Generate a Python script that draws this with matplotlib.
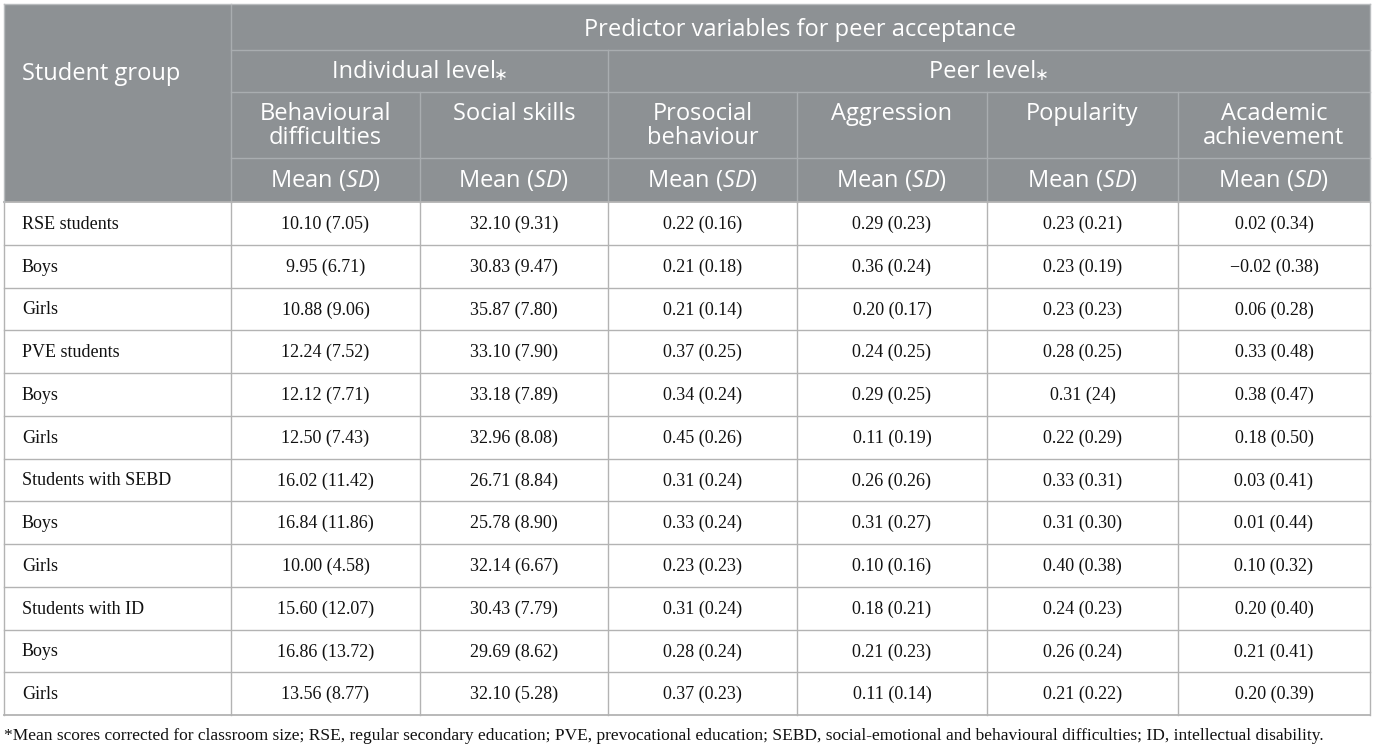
import matplotlib
matplotlib.use("Agg")
import matplotlib.pyplot as plt

plt.rcParams['mathtext.fontset'] = 'custom'
plt.rcParams['mathtext.rm'] = 'Open Sans'
plt.rcParams['mathtext.it'] = 'Open Sans:italic'

# ---- data ----
groups = ["RSE students", "Boys", "Girls", "PVE students", "Boys", "Girls",
          "Students with SEBD", "Boys", "Girls", "Students with ID", "Boys", "Girls"]
behavioural = ["10.10 (7.05)", "9.95 (6.71)", "10.88 (9.06)", "12.24 (7.52)", "12.12 (7.71)",
               "12.50 (7.43)", "16.02 (11.42)", "16.84 (11.86)", "10.00 (4.58)",
               "15.60 (12.07)", "16.86 (13.72)", "13.56 (8.77)"]
social = ["32.10 (9.31)", "30.83 (9.47)", "35.87 (7.80)", "33.10 (7.90)", "33.18 (7.89)",
          "32.96 (8.08)", "26.71 (8.84)", "25.78 (8.90)", "32.14 (6.67)", "30.43 (7.79)",
          "29.69 (8.62)", "32.10 (5.28)"]
prosocial = ["0.22 (0.16)", "0.21 (0.18)", "0.21 (0.14)", "0.37 (0.25)", "0.34 (0.24)",
             "0.45 (0.26)", "0.31 (0.24)", "0.33 (0.24)", "0.23 (0.23)", "0.31 (0.24)",
             "0.28 (0.24)", "0.37 (0.23)"]
aggression = ["0.29 (0.23)", "0.36 (0.24)", "0.20 (0.17)", "0.24 (0.25)", "0.29 (0.25)",
              "0.11 (0.19)", "0.26 (0.26)", "0.31 (0.27)", "0.10 (0.16)", "0.18 (0.21)",
              "0.21 (0.23)", "0.11 (0.14)"]
popularity = ["0.23 (0.21)", "0.23 (0.19)", "0.23 (0.23)", "0.28 (0.25)", "0.31 (24)",
              "0.22 (0.29)", "0.33 (0.31)", "0.31 (0.30)", "0.40 (0.38)", "0.24 (0.23)",
              "0.26 (0.24)", "0.21 (0.22)"]
academic = ["0.02 (0.34)", "\u22120.02 (0.38)", "0.06 (0.28)", "0.33 (0.48)", "0.38 (0.47)",
            "0.18 (0.50)", "0.03 (0.41)", "0.01 (0.44)", "0.10 (0.32)", "0.20 (0.40)",
            "0.21 (0.41)", "0.20 (0.39)"]
var_labels = ["Behavioural\ndifficulties", "Social skills", "Prosocial\nbehaviour",
              "Aggression", "Popularity", "Academic\nachievement"]
title_top = "Predictor variables for peer acceptance"
level_labels = ["Individual level", "Peer level"]
level_mark = "\u2217"
stub_label = "Student group"
footnote = ("*Mean scores corrected for classroom size; RSE, regular secondary education; "
            "PVE, prevocational education; SEBD, social-emotional and behavioural difficulties; "
            "ID, intellectual disability.")

columns = [behavioural, social, prosocial, aggression, popularity, academic]

# ---- layout ----
W, H = 1375, 750
fig = plt.figure(figsize=(W / 100, H / 100), dpi=100)
ax = fig.add_axes([0, 0, 1, 1])
ax.set_xlim(0, W)
ax.set_ylim(H, 0)
ax.axis('off')

xb = [4, 231, 420, 608, 797, 987, 1178, 1370]
hy = [4, 50, 92, 158, 202]
body_top = 202
body_bot = 715
nrows = len(groups)
rh = (body_bot - body_top) / nrows

hdr_fill = '#8d9194'
hdr_line = '#a9adb0'
body_line = '#b3b3b3'
hdr_txt = '#ffffff'

ax.add_patch(plt.Rectangle((xb[0], hy[0]), xb[-1] - xb[0], hy[-1] - hy[0],
                           facecolor=hdr_fill, edgecolor='none', zorder=1))
lw = 1.0
# header lines
ax.plot([xb[1], xb[-1]], [hy[1]] * 2, color=hdr_line, lw=lw, zorder=2)
ax.plot([xb[1], xb[-1]], [hy[2]] * 2, color=hdr_line, lw=lw, zorder=2)
ax.plot([xb[1], xb[-1]], [hy[3]] * 2, color=hdr_line, lw=lw, zorder=2)
ax.plot([xb[1], xb[1]], [hy[0], hy[-1]], color=hdr_line, lw=lw, zorder=2)
ax.plot([xb[3], xb[3]], [hy[1], hy[-1]], color=hdr_line, lw=lw, zorder=2)
for x in [xb[2], xb[4], xb[5], xb[6]]:
    ax.plot([x, x], [hy[2], hy[-1]], color=hdr_line, lw=lw, zorder=2)

# body lines
for i in range(nrows + 1):
    y = body_top + i * rh
    ax.plot([xb[0], xb[-1]], [y, y], color=body_line, lw=1.3 if i in (0, nrows) else 1.0, zorder=2)
for x in xb:
    ax.plot([x, x], [body_top, body_bot], color=body_line, lw=1.0, zorder=2)
# outer border of header
ax.plot([xb[0], xb[-1]], [hy[0], hy[0]], color='#b9bcbe', lw=1.0, zorder=3)
ax.plot([xb[0], xb[0]], [hy[0], hy[-1]], color='#b9bcbe', lw=1.0, zorder=3)
ax.plot([xb[-1], xb[-1]], [hy[0], hy[-1]], color='#b9bcbe', lw=1.0, zorder=3)

hfam = ['Open Sans', 'DejaVu Sans']
hfs = 17
hw = 'normal'
dy = 2.5
kw = dict(color=hdr_txt, fontsize=hfs, family=hfam, weight=hw, zorder=4)
ax.text(22, 72 + dy, stub_label, ha='left', va='center', **kw)
ax.text((xb[1] + xb[-1]) / 2, 27 + dy, title_top, ha='center', va='center', **kw)

renderer = fig.canvas.get_renderer()
for lab, (xa, xz) in zip(level_labels, [(xb[1], xb[3]), (xb[3], xb[-1])]):
    cx = (xa + xz) / 2
    t1 = ax.text(cx, 70 + dy, lab, ha='left', va='center', **kw)
    t2 = ax.text(cx, 70 + dy, level_mark, ha='left', va='center', color=hdr_txt,
                 fontsize=12, family=['DejaVu Sans'], zorder=4)
    w1 = t1.get_window_extent(renderer).width
    w2 = t2.get_window_extent(renderer).width
    x0 = cx - (w1 + w2 - 2) / 2
    t1.set_x(x0)
    t2.set_x(x0 + w1 - 2)
    t2.set_y(70 + dy + 2)

for j, lab in enumerate(var_labels):
    cx = (xb[j + 1] + xb[j + 2]) / 2
    lines = lab.split("\n")
    ax.text(cx, 111 + dy, lines[0], ha='center', va='center', **kw)
    if len(lines) == 2:
        ax.text(cx, 136 + dy, lines[1], ha='center', va='center', **kw)
    ax.text(cx, 178 + dy, r"Mean ($\mathit{SD}$)", ha='center', va='center', **kw)

bfam = ['Liberation Serif', 'DejaVu Serif']
bfs = 13
for i in range(nrows):
    cy = body_top + (i + 0.5) * rh + 1
    ax.text(22, cy, groups[i], fontsize=bfs, family=bfam, ha='left', va='center', color='#111111', zorder=4)
    for j, col in enumerate(columns):
        cx = (xb[j + 1] + xb[j + 2]) / 2
        ax.text(cx, cy, col[i], fontsize=bfs, family=bfam, ha='center', va='center', color='#111111', zorder=4)

ax.text(4, 736, footnote, fontsize=12.5, family=bfam, ha='left', va='center', color='#111111')

fig.savefig("out.png", dpi=100)
